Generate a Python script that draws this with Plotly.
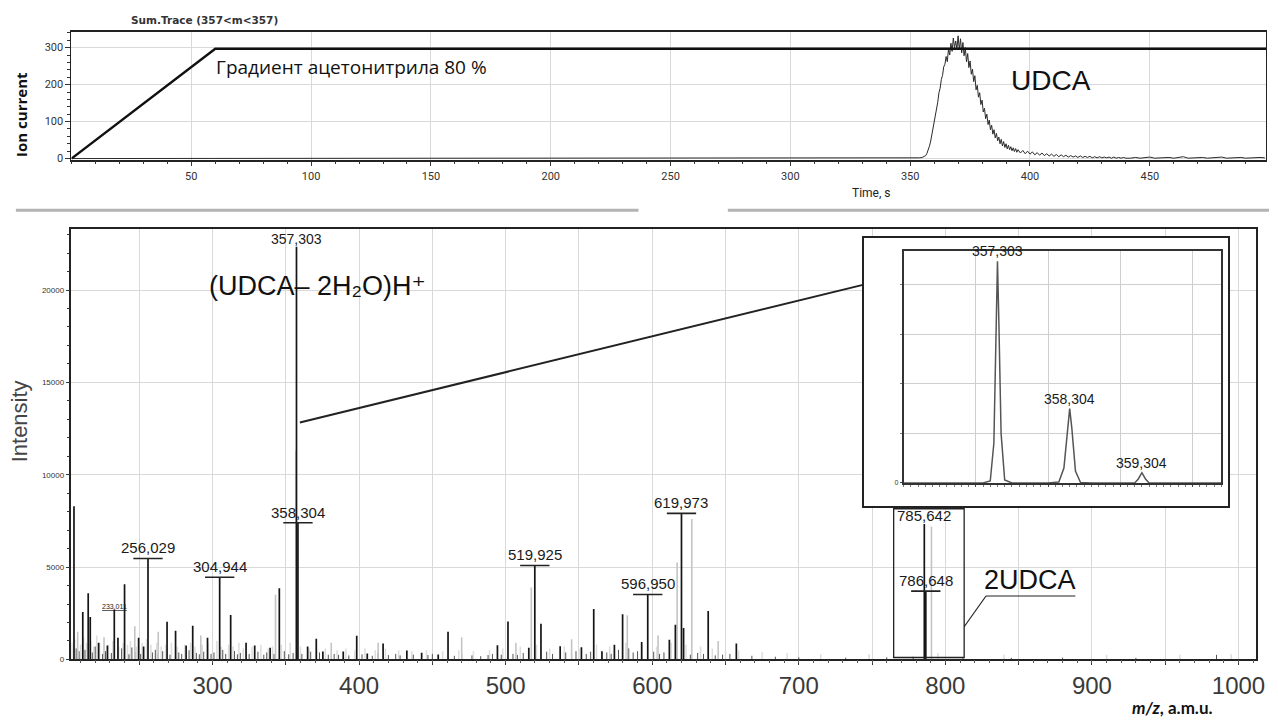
import plotly.graph_objects as go

W, H = 1278, 721


def px(x):
    return x / W


def py(y):
    return 1 - y / H


# ---------------- top panel: ion current chromatogram ----------------
grad_t = [0, 60, 498.5]
grad_v = [0, 297, 297]

chrom_t = [0, 350, 351, 352, 353, 354, 355, 356,
           356.5, 357, 357.5, 358, 358.5, 359, 359.5, 360, 360.5, 361, 361.5, 362, 362.5,
           363, 363.5, 364, 364.5, 365, 365.5, 366, 366.5, 367, 367.5, 368, 368.5, 369,
           369.5, 370, 370.5, 371, 371.5, 372, 372.5, 373, 373.5, 374, 374.5, 375, 375.5,
           376, 376.5, 377, 377.5, 378, 378.5, 379, 379.5, 380, 380.5, 381, 381.5, 382,
           382.5, 383, 383.5, 384, 384.5, 385, 385.5, 386, 386.5, 387, 387.5, 388, 388.5,
           389, 389.5, 390, 390.5, 391, 391.5, 392, 392.5, 393, 393.5, 394, 394.5, 395,
           396, 397, 398, 399, 400, 401, 402, 403, 404, 405, 406, 407, 408, 409, 410,
           411, 412, 413, 414, 415, 416, 417, 418, 419, 420, 421, 422, 423, 424, 425,
           426, 427, 428, 429, 430, 431, 432, 433, 434, 435, 436, 437, 438, 439, 440,
           442, 444, 446, 448, 450, 452, 454, 456, 458, 460, 462, 464, 466, 468, 470,
           472, 474, 476, 478, 480, 482, 484, 486, 488, 490, 492, 494, 496, 498]
chrom_v = [0, 0, 1, 0, 1, 2, 3, 5,
           8, 14, 22, 33, 45, 62, 80, 101, 118, 140, 152, 178, 190,
           214, 225, 248, 255, 276, 262, 298, 280, 312, 290, 326, 300, 318,
           296, 332, 294, 324, 286, 314, 278, 300, 262, 284, 246, 264, 228,
           242, 208, 224, 186, 198, 166, 178, 146, 158, 126, 136, 108, 120,
           92, 104, 78, 90, 66, 78, 56, 68, 48, 58, 40, 52, 34,
           46, 30, 40, 26, 36, 24, 32, 21, 29, 19, 27, 17, 24,
           15, 22, 13, 20, 12, 18, 10, 16, 9, 15, 8, 13, 7, 12, 6,
           11, 5, 10, 5, 9, 4, 8, 4, 7, 3, 7, 3, 6, 3, 6,
           2, 5, 2, 5, 2, 4, 2, 4, 1, 4, 1, 3, 1, 3, 1,
           1, 3, 1, 2, 4, 1, 2, 1, 3, 1, 2, 5, 1, 2, 1,
           3, 1, 2, 1, 4, 1, 2, 1, 3, 1, 2, 1, 3, 2]

top_xticks = [50, 100, 150, 200, 250, 300, 350, 400, 450]
top_yticks = [0, 100, 200, 300]

# ---------------- bottom panel: mass spectrum ----------------
peak_mz = [205.5, 211.5, 215.2, 216.6, 222.3, 228.3, 233.0, 235.5, 240.0, 249.6,
           253.0, 256.0, 269.0, 274.8, 282.0, 286.5, 296.6, 304.9, 312.4, 322.9,
           328.8, 339.3, 345.6, 357.3, 358.3, 364.9, 370.8, 375.3, 389.2, 398.4,
           405.6, 416.4, 432.6, 442.7, 454.0, 460.7, 494.4, 501.6, 515.8, 519.9,
           524.1, 537.2, 551.7, 560.1, 565.7, 574.2, 579.8, 592.8, 596.95, 611.7,
           615.8, 619.97, 621.4, 638.2, 657.4, 785.64, 786.65]
peak_int = [8300, 2570, 3590, 2300, 900, 750, 2700, 1180, 4070, 1180,
            700, 5470, 2040, 1560, 750, 1820, 1180, 4450, 2410, 900,
            750, 640, 3860, 22350, 7400, 700, 1120, 430, 430, 1290,
            320, 860, 480, 370, 270, 1500, 770, 2050, 640, 5090,
            1930, 710, 660, 2730, 450, 800, 2450, 950, 3520, 1070,
            1880, 7910, 1710, 2630, 860, 7340, 3700]

bg_mz = [208.0, 226.0, 247.0, 263.0, 292.0, 343.0, 357.0, 381.0, 413.0, 470.0,
         507.0, 517.5, 545.0, 583.0, 604.0, 617.0, 627.0, 645.0, 790.5]
bg_int = [1500, 1200, 1800, 1500, 1300, 3500, 11300, 900, 900, 1200,
          900, 3900, 1100, 2400, 1300, 5250, 7600, 1000, 7200]

haze_mz = [204, 206, 210, 212, 214, 217, 219, 221, 223, 229, 232, 236, 239, 242,
           244, 248, 252, 255, 258, 262, 265, 268, 272, 276, 281, 285, 288, 293,
           297, 303, 306, 311, 314, 318, 321, 327, 333, 338, 341, 347, 353, 360,
           366, 371, 377, 385, 391, 397, 404, 411, 418, 427, 436, 446, 457, 468,
           478, 489, 498, 510, 521, 530, 540, 550, 562, 571, 582, 593, 603, 613,
           623, 633, 641, 650, 659, 675, 692, 715, 748, 795, 840, 910, 960, 995]
haze_int = [900, 1100, 800, 1200, 900, 1000, 700, 1300, 900, 800, 1000, 700, 900, 800,
            1000, 700, 900, 1100, 800, 900, 700, 800, 900, 700, 800, 900, 700, 800,
            900, 1000, 700, 800, 700, 900, 600, 700, 800, 600, 700, 800, 900, 700,
            600, 700, 600, 500, 600, 500, 600, 500, 600, 500, 450, 500, 450, 500,
            450, 500, 600, 700, 800, 600, 700, 600, 800, 700, 900, 800, 700, 900,
            800, 700, 600, 500, 500, 400, 350, 300, 300, 350, 250, 250, 250, 300]

noise_mz = [207, 209, 213, 218, 220, 225, 227, 231, 238, 243, 245, 247, 251, 259,
            261, 263, 266, 271, 277, 279, 284, 289, 291, 294, 299, 301, 307, 309,
            315, 317, 319, 325, 331, 335, 337, 342, 349, 352, 355, 361, 367, 373,
            379, 383, 386, 393, 402, 409, 413, 420, 425, 428, 437, 447, 450, 465,
            470, 477, 483, 488, 491, 497, 505, 508, 512, 528, 532, 541, 545, 548,
            555, 558, 569, 572, 577, 584, 587, 590, 601, 605, 608, 626, 631, 635,
            643, 648, 653, 668, 684, 700, 732, 760, 778, 812, 845, 880, 930, 985]
noise_int = [600, 450, 520, 380, 700, 300, 450, 350, 600, 280, 650, 420, 300, 380,
             520, 300, 450, 260, 380, 300, 500, 350, 280, 420, 300, 380, 520, 300,
             460, 280, 350, 300, 420, 260, 380, 300, 450, 280, 350, 300, 420, 380,
             260, 300, 250, 220, 280, 200, 350, 240, 300, 220, 260, 240, 300, 200,
             260, 220, 180, 240, 300, 260, 300, 250, 350, 420, 300, 380, 260, 450,
             300, 420, 380, 300, 520, 600, 380, 450, 420, 300, 380, 260, 350, 300,
             220, 260, 300, 200, 150, 120, 100, 120, 150, 100, 90, 100, 90, 250]

label_text = ["357,303", "358,304", "256,029", "304,944", "233,011", "519,925",
              "596,950", "619,973", "785,642", "786,648"]
label_mz = [357.3, 358.3, 256.0, 304.9, 233.0, 519.9, 596.95, 619.97, 785.64, 786.65]
label_int = [22350, 7400, 5470, 4450, 2700, 5090, 3520, 7910, 7340, 3700]
label_bar = [False, True, True, True, False, True, True, True, False, True]
label_size = [14, 15, 15, 15, 7, 15, 15, 15, 15, 15]

ms_xticks = [300, 400, 500, 600, 700, 800, 900, 1000]
ms_xticktext = ["300", "400", "500", "600", "700", "800", "900", "1000"]
ms_yticks = [0, 5000, 10000, 15000, 20000]
ms_yticktext = ["0", "5000", "10000", "15000", "20000"]

# ---------------- inset: isotope profile ----------------
inset_mz = [356.0, 356.6, 357.1, 357.2, 357.25, 357.28, 357.30, 357.32, 357.35, 357.4,
            357.5, 358.0, 358.15, 358.22, 358.27, 358.30, 358.33, 358.38, 358.45,
            358.6, 359.0, 359.2, 359.25, 359.30, 359.35, 359.4, 359.6, 360.4]
inset_int = [0, 0, 0, 200, 4000, 15000, 22350, 16000, 5000, 300,
             0, 0, 100, 1500, 5500, 7500, 5500, 1200, 50,
             0, 0, 0, 400, 1030, 400, 0, 0, 0]
inset_label_text = ["357,303", "358,304", "359,304"]
inset_label_mz = [357.30, 358.30, 359.30]
inset_label_int = [22350, 7500, 1030]
inset_xticks = [357, 358, 359, 360]
inset_yticks = [0]
inset_yticktext = ["0"]


def sticks(xs, ys):
    ox, oy = [], []
    for a, b in zip(xs, ys):
        ox += [a, a, None]
        oy += [0, b, None]
    return ox, oy


fig = go.Figure()

# top traces
fig.add_trace(go.Scatter(x=chrom_t, y=chrom_v, mode="lines", xaxis="x", yaxis="y",
                         line=dict(color="#2a2a2a", width=1), hoverinfo="skip"))
fig.add_trace(go.Scatter(x=grad_t, y=grad_v, mode="lines", xaxis="x", yaxis="y",
                         line=dict(color="#111", width=2.4), hoverinfo="skip"))

# bottom traces
hx, hy = sticks(haze_mz, haze_int)
fig.add_trace(go.Scatter(x=hx, y=hy, mode="lines", xaxis="x2", yaxis="y2",
                         line=dict(color="#dddddd", width=1.5), hoverinfo="skip"))
nx, ny = sticks(noise_mz, noise_int)
fig.add_trace(go.Scatter(x=nx, y=ny, mode="lines", xaxis="x2", yaxis="y2",
                         line=dict(color="#555", width=1), hoverinfo="skip"))
bx, by = sticks(bg_mz, bg_int)
fig.add_trace(go.Scatter(x=bx, y=by, mode="lines", xaxis="x2", yaxis="y2",
                         line=dict(color="#c4c4c4", width=1.6), hoverinfo="skip"))
sx, sy = sticks(peak_mz, peak_int)
fig.add_trace(go.Scatter(x=sx, y=sy, mode="lines", xaxis="x2", yaxis="y2",
                         line=dict(color="#151515", width=1.7), hoverinfo="skip"))

# outer inset frame (empty subplot)
fig.add_trace(go.Scatter(x=[], y=[], xaxis="x3", yaxis="y3", hoverinfo="skip"))
# inset profile
fig.add_trace(go.Scatter(x=inset_mz, y=inset_int, mode="lines", xaxis="x4", yaxis="y4",
                         line=dict(color="#555", width=1.5), hoverinfo="skip"))
# overlay axis carrying the fine 10-unit ticks of the spectrum
fig.add_trace(go.Scatter(x=[], y=[], xaxis="x5", yaxis="y2", hoverinfo="skip"))

tickfont_top = dict(family="Roboto", size=11, color="#333")
grid = "#d9d9d9"
ms_range = [203.8, 1012]

fig.update_layout(
    width=W, height=H, margin=dict(l=0, r=0, t=0, b=0),
    paper_bgcolor="white", plot_bgcolor="white", showlegend=False,
    xaxis=dict(domain=[px(72), px(1275)], anchor="y", range=[0, 498.5],
               tickmode="array", tickvals=top_xticks, ticks="outside", ticklen=5,
               tickcolor="#333", showgrid=True, gridcolor=grid, zeroline=False,
               showline=True, linecolor="#222", linewidth=1.5, mirror=True,
               tickfont=tickfont_top,
               minor=dict(tick0=0, dtick=10, ticks="outside", ticklen=3,
                          tickcolor="#333", showgrid=False)),
    yaxis=dict(domain=[py(161), py(32)], anchor="x", range=[-3, 343],
               tickmode="array", tickvals=top_yticks, ticks="outside", ticklen=5,
               tickcolor="#333", showgrid=True, gridcolor=grid, zeroline=False,
               showline=True, linecolor="#222", linewidth=1.2, mirror=True,
               tickfont=tickfont_top,
               minor=dict(tick0=0, dtick=20, ticks="outside", ticklen=3,
                          tickcolor="#333", showgrid=False)),
    xaxis2=dict(domain=[px(72), px(1265)], anchor="y2", range=ms_range,
                tickmode="array", tickvals=ms_xticks, ticktext=ms_xticktext,
                ticks="outside", ticklen=4, tickcolor="#333", showgrid=True,
                gridcolor=grid, zeroline=False, showline=True, linecolor="#222",
                linewidth=1.5, mirror=True,
                tickfont=dict(family="Liberation Sans", size=24, color="#3a3a3a"),
                minor=dict(tick0=0, dtick=50, ticks="outside", ticklen=4,
                           tickcolor="#333", showgrid=True, gridcolor=grid)),
    xaxis5=dict(overlaying="x2", anchor="y2", side="bottom", range=ms_range,
                tickmode="linear", tick0=0, dtick=10, ticks="outside", ticklen=3,
                tickcolor="#555", showticklabels=False, showgrid=False,
                zeroline=False, showline=False),
    yaxis2=dict(domain=[py(665), py(231)], anchor="x2", range=[0, 23300],
                tickmode="array", tickvals=ms_yticks, ticktext=ms_yticktext,
                ticks="outside", ticklen=4,
                tickcolor="#333", showgrid=True, gridcolor=grid, zeroline=False,
                showline=True, linecolor="#222", linewidth=1.5, mirror=True,
                tickfont=dict(family="Liberation Sans", size=8, color="#333"),
                minor=dict(tick0=0, dtick=1000, ticks="outside", ticklen=3,
                           tickcolor="#333", showgrid=False)),
    xaxis3=dict(domain=[px(870), px(1237)], anchor="y3", range=[0, 1],
                showgrid=False, zeroline=False, showticklabels=False, ticks="",
                showline=True, linecolor="#222", linewidth=1.5, mirror=True),
    yaxis3=dict(domain=[py(510), py(240)], anchor="x3", range=[0, 1],
                showgrid=False, zeroline=False, showticklabels=False, ticks="",
                showline=True, linecolor="#222", linewidth=1.5, mirror=True),
    xaxis4=dict(domain=[px(910), px(1230)], anchor="y4", range=[356.0, 360.4],
                tickmode="array", tickvals=inset_xticks, showticklabels=False,
                ticks="outside", ticklen=2, tickcolor="#444", showgrid=True,
                gridcolor="#cfcfcf", zeroline=False, showline=True, linecolor="#333",
                linewidth=1.5, mirror=True,
                minor=dict(tick0=356, dtick=0.1, ticks="outside", ticklen=2,
                           tickcolor="#777", showgrid=False)),
    yaxis4=dict(domain=[py(487), py(253)], anchor="x4", range=[0, 23400],
                tickmode="array", tickvals=inset_yticks, ticktext=inset_yticktext,
                ticks="outside", ticklen=2, tickcolor="#444", showgrid=False,
                zeroline=False, showline=True, linecolor="#333",
                linewidth=1.5, mirror=True,
                tickfont=dict(family="Liberation Sans", size=7, color="#333"),
                minor=dict(tick0=0, dtick=5000, ticks="outside", ticklen=2,
                           tickcolor="#777", showgrid=True, gridcolor="#cfcfcf")),
)

ann = []
shapes = []


def ptext(text, x, y, size, family="Liberation Sans", color="#111", xanchor="center",
          angle=0):
    return dict(text=text, x=px(x), y=py(y), xref="paper", yref="paper",
                xanchor=xanchor, yanchor="middle", showarrow=False, textangle=angle,
                font=dict(family=family, size=size, color=color))


# top panel texts
ann.append(ptext("<b>Sum.Trace (357&lt;m&lt;357)</b>", 206, 20, 10.5, "DejaVu Sans", "#333"))
ann.append(ptext("<b>Ion current</b>", 21, 115, 15, "Open Sans", "#111", angle=-90))
ann.append(ptext("Time, s", 878, 195, 12, "Roboto", "#222"))
ann.append(ptext("Градиент ацетонитрила 80 %", 216, 68, 19, "Open Sans", "#111",
                 xanchor="left"))
ann.append(ptext("UDCA", 1058, 81, 28))

# bottom panel texts
ann.append(ptext("Intensity", 20, 425, 22, color="#444", angle=-90))
ann.append(ptext("(UDCA– 2H₂O)H⁺", 208, 288, 27, "DejaVu Sans, Liberation Sans"
                 if False else "Liberation Sans, DejaVu Sans", xanchor="left"))
ann.append(ptext("2UDCA", 1037, 585, 27))
ann.append(ptext("<b><i>m/z</i>, a.m.u.</b>", 1181, 713, 17, "Lato"))

for t, m, i, bar, fs in zip(label_text, label_mz, label_int, label_bar, label_size):
    txt = "<u>" + t + "</u>" if fs < 10 else t
    ann.append(dict(text=txt, x=m, y=i, xref="x2", yref="y2", xanchor="center",
                    yanchor="bottom", showarrow=False, yshift=0 if bar else -2,
                    font=dict(family="Liberation Sans", size=fs, color="#1a1a1a")))
    if bar:
        shapes.append(dict(type="line", xref="x2", yref="y2", x0=m - 10, x1=m + 10,
                           y0=i, y1=i, line=dict(color="#222", width=1.6)))

for t, m, i in zip(inset_label_text, inset_label_mz, inset_label_int):
    ann.append(dict(text=t, x=m, y=i, xref="x4", yref="y4", xanchor="center",
                    yanchor="bottom", showarrow=False,
                    font=dict(family="Liberation Sans", size=14, color="#1a1a1a")))

# separator between the panels
shapes.append(dict(type="line", xref="paper", yref="paper", x0=px(16), x1=px(643),
                   y0=py(212), y1=py(212), line=dict(color="#b3b3b3", width=3)))
shapes.append(dict(type="line", xref="paper", yref="paper", x0=px(733), x1=px(1278),
                   y0=py(212), y1=py(212), line=dict(color="#b3b3b3", width=3)))
# connector to inset
shapes.append(dict(type="line", xref="paper", yref="paper", x0=px(302), y0=py(426),
                   x1=px(870), y1=py(287), line=dict(color="#222", width=2)))
# 2UDCA box and leader
shapes.append(dict(type="rect", xref="paper", yref="paper", x0=px(900), x1=px(971),
                   y0=py(663), y1=py(513), line=dict(color="#222", width=1.3)))
shapes.append(dict(type="line", xref="paper", yref="paper", x0=px(971), y0=py(632),
                   x1=px(993), y1=py(601), line=dict(color="#222", width=1.2)))
shapes.append(dict(type="line", xref="paper", yref="paper", x0=px(993), y0=py(601),
                   x1=px(1083), y1=py(601), line=dict(color="#222", width=1.2)))

fig.update_layout(annotations=ann, shapes=shapes)
fig.write_html("out.html")
